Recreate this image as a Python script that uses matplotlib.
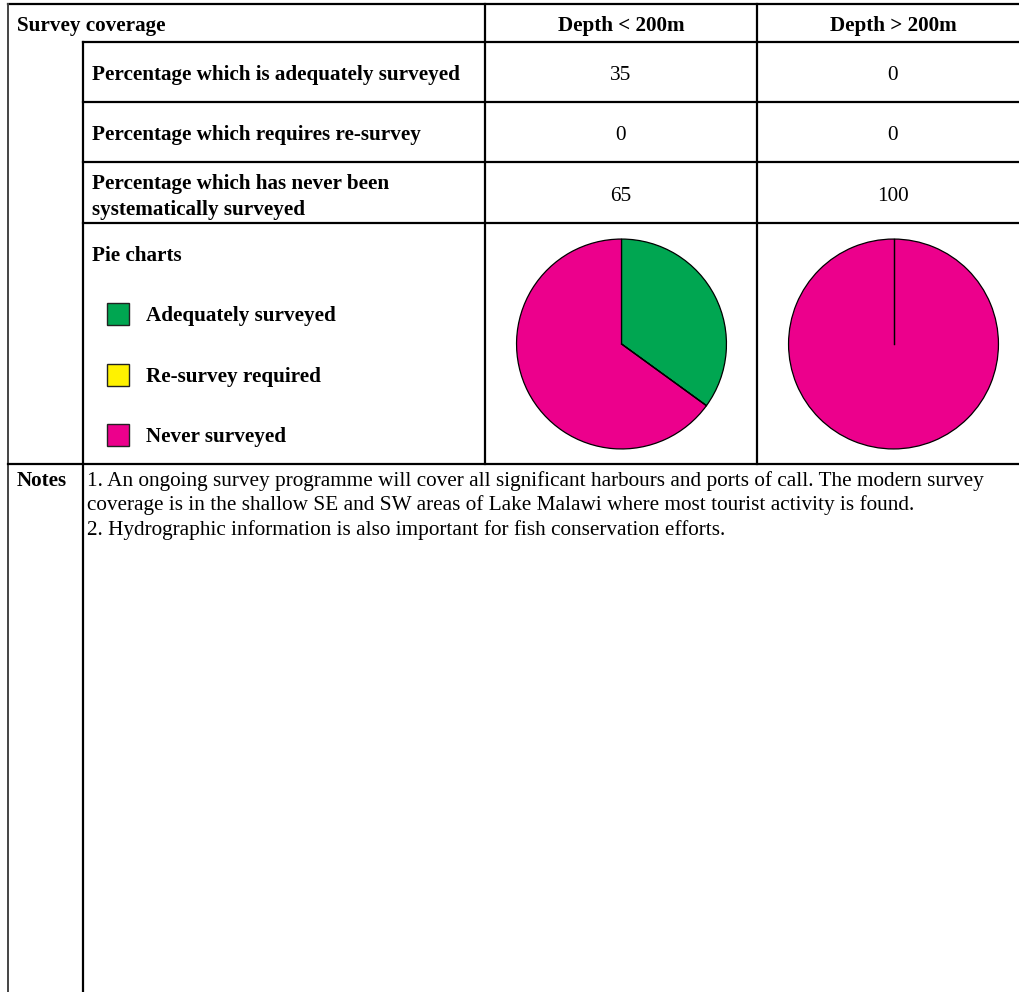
import matplotlib
matplotlib.use("Agg")
import matplotlib.pyplot as plt
import numpy as np

# ---- data ----
header_title = "Survey coverage"
columns = ["Depth < 200m", "Depth > 200m"]
row_labels = [
    "Percentage which is adequately surveyed",
    "Percentage which requires re-survey",
    "Percentage which has never been\nsystematically surveyed",
]
shallow_values = [35, 0, 65]
deep_values = [0, 0, 100]
legend_labels = ["Adequately surveyed", "Re-survey required", "Never surveyed"]
colors = ["#00A651", "#FFF200", "#EC008C"]
notes_lines = [
    "1. An ongoing survey programme will cover all significant harbours and ports of call. The modern survey",
    "coverage is in the shallow SE and SW areas of Lake Malawi where most tourist activity is found.",
    "2. Hydrographic information is also important for fish conservation efforts.",
]

W, H = 1020, 992
fig = plt.figure(figsize=(W / 100, H / 100), dpi=100)
ax = fig.add_axes([0, 0, 1, 1])
ax.set_xlim(0, W)
ax.set_ylim(H, 0)
ax.axis("off")

SERIF = ["Liberation Serif", "DejaVu Serif"]
BS = 15.2  # bold size
RS = 15.3
dy = 2  # small vertical text offset

lw = 1.6
k = "black"
# grid lines
ax.plot([8, W], [4, 4], color=k, lw=lw)
ax.plot([8, 8], [4, H], color="#444444", lw=1.4)
ax.plot([83, W], [42, 42], color=k, lw=lw)
ax.plot([83, 83], [42, H], color=k, lw=lw)
for x in (485, 757):
    ax.plot([x, x], [4, 464], color=k, lw=lw)
for y in (102, 162, 223):
    ax.plot([83, W], [y, y], color=k, lw=lw)
ax.plot([8, W], [464, 464], color=k, lw=lw)

col_x = [621, 893]
ax.text(17, 24 + dy, header_title, fontfamily=SERIF, fontweight="bold", fontsize=BS, va="center", ha="left")
for cx, c in zip(col_x, columns):
    ax.text(cx, 24 + dy, c, fontfamily=SERIF, fontweight="bold", fontsize=BS, va="center", ha="center")

row_y = [73, 133, 194.5]
for y, lab, v1, v2 in zip(row_y, row_labels, shallow_values, deep_values):
    ax.text(92, y + dy, lab, fontfamily=SERIF, fontweight="bold", fontsize=BS, va="center", ha="left",
            linespacing=1.4)
    ax.text(col_x[0], y + dy, str(v1), fontfamily=SERIF, fontsize=RS, va="center", ha="center")
    ax.text(col_x[1], y + dy, str(v2), fontfamily=SERIF, fontsize=RS, va="center", ha="center")

ax.text(92, 254 + dy, "Pie charts", fontfamily=SERIF, fontweight="bold", fontsize=BS, va="center", ha="left")
leg_y = [314, 375, 435]
for y, lab, c in zip(leg_y, legend_labels, colors):
    ax.add_patch(plt.Rectangle((107, y - 11), 22, 22, facecolor=c, edgecolor="#222222", lw=1.0))
    ax.text(146, y + dy, lab, fontfamily=SERIF, fontweight="bold", fontsize=BS, va="center", ha="left")

ax.text(17, 479 + dy, "Notes", fontfamily=SERIF, fontweight="bold", fontsize=BS, va="center", ha="left")
for i, line in enumerate(notes_lines):
    ax.text(87, 479 + dy + i * 24.5, line, fontfamily=SERIF, fontsize=RS, va="center", ha="left")

# pies
r = 106
cy = 344
for cx, vals in zip(col_x, [shallow_values, deep_values]):
    pax = fig.add_axes([(cx + 0.5 - r) / W, (H - cy - r) / H, 2 * r / W, 2 * r / H])
    pax.pie(vals, colors=colors, startangle=90, counterclock=False, radius=1,
            wedgeprops=dict(edgecolor="black", linewidth=0.9))
    # boundary line for zero-size wedges (drawn as a radius in the original)
    total = float(sum(vals))
    cum = 0.0
    for v in vals:
        if v == 0:
            ang = np.deg2rad(90 - 360 * cum / total)
            pax.plot([0, np.cos(ang)], [0, np.sin(ang)], color="black", lw=0.9)
        cum += v
    pax.set_xlim(-1.01, 1.01)
    pax.set_ylim(-1.01, 1.01)
    pax.set_aspect("auto")
    pax.axis("off")

fig.savefig("out.png", dpi=100)
